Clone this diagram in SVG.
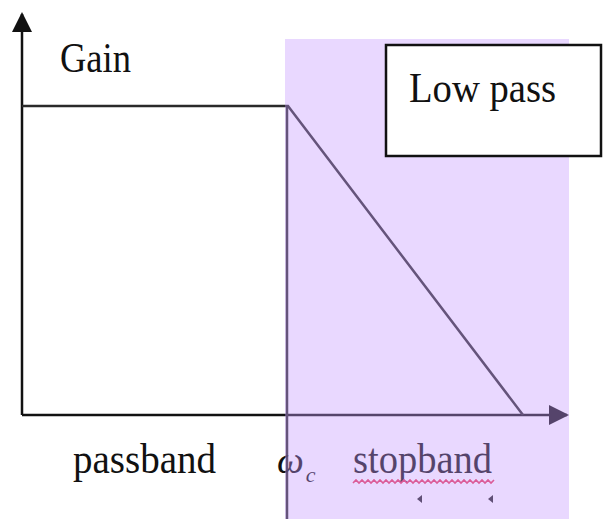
<svg xmlns="http://www.w3.org/2000/svg" width="606" height="519" viewBox="0 0 606 519">
  <defs>
    <style>
      .axis { stroke: #111; stroke-width: 2.5; fill: none; }
      .curve { stroke: #2a2a2a; stroke-width: 2.5; fill: none; }
      .lbl { font-family: "Liberation Serif", "Times New Roman", serif; font-size: 42px; fill: #111; }
      .sym { font-style: italic; font-size: 38px; }
      .sub { font-size: 22px; }
    </style>
    <marker id="head" viewBox="0 0 10 10" refX="9" refY="5" markerWidth="20" markerHeight="20" markerUnits="userSpaceOnUse" orient="auto">
      <path d="M0,0 L10,5 L0,10 Z" fill="#111"/>
    </marker>
  </defs>

  <rect width="606" height="519" fill="#ffffff"/>

  <!-- axes and response curve -->
  <g id="connectors">
    <line class="axis" x1="22" y1="415" x2="22" y2="14" marker-end="url(#head)"/>
    <line class="axis" x1="22" y1="415" x2="567" y2="415" marker-end="url(#head)"/>
    <polyline class="curve" points="22,106 288,106 523,415"/>
    <line class="curve" x1="287" y1="106" x2="287" y2="519"/>
  </g>

  <g id="gain-label">
    <text class="lbl" x="60" y="72" textLength="71" lengthAdjust="spacingAndGlyphs">Gain</text>
  </g>

  <g id="passband-label">
    <text class="lbl" x="73" y="473" textLength="143" lengthAdjust="spacingAndGlyphs">passband</text>
  </g>

  <g id="cutoff-label">
    <text class="lbl sym" x="277" y="473">ω<tspan class="sub" dx="2" dy="9">c</tspan></text>
  </g>

  <g id="stopband-label">
    <text class="lbl" x="353" y="473" textLength="139" lengthAdjust="spacingAndGlyphs">stopband</text>
    <path d="M353,483 l3,-3 l3,3 l3,-3 l3,3 l3,-3 l3,3 l3,-3 l3,3 l3,-3 l3,3 l3,-3 l3,3 l3,-3 l3,3 l3,-3 l3,3 l3,-3 l3,3 l3,-3 l3,3 l3,-3 l3,3 l3,-3 l3,3 l3,-3 l3,3 l3,-3 l3,3 l3,-3 l3,3 l3,-3 l3,3 l3,-3 l3,3 l3,-3 l3,3 l3,-3 l3,3 l3,-3 l3,3 l3,-3 l3,3 l3,-3 l3,3 l3,-3 l3,3 l3,-3" fill="none" stroke="#e8385a" stroke-width="1.6"/>
    <path d="M417,499 l5,-4 v8 Z" fill="#222"/>
    <path d="M488,499 l5,-4 v8 Z" fill="#222"/>
  </g>

  <!-- translucent stopband region -->
  <g id="stopband-region">
    <rect x="285" y="39" width="284" height="480" fill="#c598fe" fill-opacity="0.38"/>
  </g>

  <g id="legend">
    <rect x="386" y="45" width="215" height="111" fill="#ffffff" stroke="#111" stroke-width="2.5"/>
    <text class="lbl" x="409" y="102" textLength="147" lengthAdjust="spacingAndGlyphs">Low pass</text>
  </g>
</svg>
